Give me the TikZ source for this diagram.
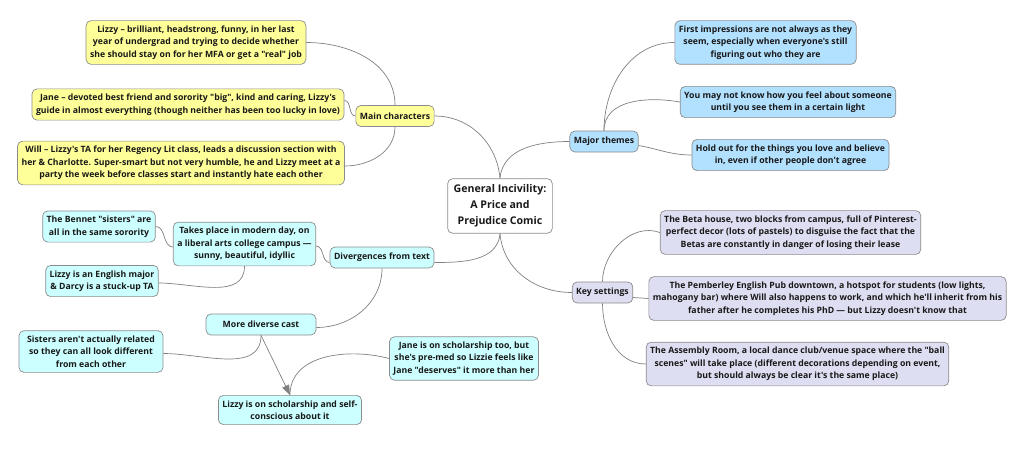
\documentclass[tikz,border=0pt]{standalone}
\usepackage{fontspec}
\setmainfont{Open Sans}[Ligatures=TeXOff]
\usepackage{xcolor}
\usetikzlibrary{arrows.meta, positioning}

\definecolor{charyellow}{RGB}{255,255,153}
\definecolor{themeblue}{RGB}{178,224,255}
\definecolor{placelilac}{RGB}{222,222,242}
\definecolor{divcyan}{RGB}{204,255,255}

\begin{document}
\begin{tikzpicture}[x=1pt, y=1pt,
  topic/.style={draw=black!45, line width=0.7pt, rounded corners=5pt, align=center, font=\fontsize{8.7}{12.5}\selectfont\bfseries, inner xsep=4pt, inner ysep=5pt, minimum height=21pt, text=black!90},
  root/.style={topic, fill=white, font=\fontsize{10.6}{16}\selectfont\bfseries, inner sep=6pt},
  chars/.style={topic, fill=charyellow},
  theme/.style={topic, fill=themeblue},
  place/.style={topic, fill=placelilac},
  diverge/.style={topic, fill=divcyan},
  link/.style={draw=black!50, line width=0.7pt},
  arrow/.style={link, -{Triangle[length=3.5mm, width=2.6mm]}}
]
  \useasboundingbox (0,0) rectangle (1024,448);

  % centre
  \node[root] (root) at (500,242) {General Incivility:\\A Price and\\Prejudice Comic};

  % Main characters
  \node[chars] (chars) at (395,332) {Main characters};
  \node[chars] (lizzy) at (196,405.5) {Lizzy – brilliant, headstrong, funny, in her last\\year of undergrad and trying to decide whether\\she should stay on for her MFA or get a "real" job};
  \node[chars] (jane) at (188,343.5) {Jane – devoted best friend and sorority "big", kind and caring, Lizzy's\\guide in almost everything (though neither has been too lucky in love)};
  \node[chars] (will) at (181,285) {Will – Lizzy's TA for her Regency Lit class, leads a discussion section with\\her \& Charlotte. Super-smart but not very humble, he and Lizzy meet at a\\party the week before classes start and instantly hate each other};
  \draw[link] (root.north) to[out=95, in=0] (chars.east);
  \draw[link] (chars.north) to[out=90, in=0] (lizzy.east);
  \draw[link] (chars.west) to[out=180, in=0] ([yshift=4pt]jane.east);
  \draw[link] (chars.south) to[out=-90, in=0] ([yshift=-3pt]will.east);

  % Major themes
  \node[theme] (themes) at (604,306.5) {Major themes};
  \node[theme] (first) at (765.5,405.5) {First impressions are not always as they\\seem, especially when everyone's still\\figuring out who they are};
  \node[theme] (mayknow) at (788,346) {You may not know how you feel about someone\\until you see them in a certain light};
  \node[theme] (holdout) at (790.5,293) {Hold out for the things you love and believe\\in, even if other people don't agree};
  \draw[link] (root.north) to[out=85, in=180] (themes.west);
  \draw[link] (themes.north) to[out=90, in=180] (first.west);
  \draw[link] (themes.north) to[out=90, in=170] (mayknow.west);
  \draw[link] ([yshift=-4pt]themes.east) to[out=-10, in=180] (holdout.west);

  % Key settings
  \node[place] (settings) at (602.5,155.5) {Key settings};
  \node[place] (beta) at (790.5,215.5) {The Beta house, two blocks from campus, full of Pinterest-\\perfect decor (lots of pastels) to disguise the fact that the\\Betas are constantly in danger of losing their lease};
  \node[place] (pemberley) at (827.5,149.5) {The Pemberley English Pub downtown, a hotspot for students (low lights,\\mahogany bar) where Will also happens to work, and which he'll inherit from his\\father after he completes his PhD — but Lizzy doesn't know that};
  \node[place] (assembly) at (797.5,84) {The Assembly Room, a local dance club/venue space where the "ball\\scenes" will take place (different decorations depending on event,\\but should always be clear it's the same place)};
  \draw[link] (root.south) to[out=-85, in=180] (settings.west);
  \draw[link] (settings.north) to[out=90, in=160] (beta.west);
  \draw[link] ([yshift=-5pt]settings.east) -- (pemberley.west);
  \draw[link] (settings.south) to[out=-90, in=180] (assembly.west);

  % Divergences from text
  \node[diverge] (diverge) at (382,190.5) {Divergences from text};
  \node[diverge] (modern) at (244.5,204) {Takes place in modern day, on\\a liberal arts college campus —\\sunny, beautiful, idyllic};
  \node[diverge] (bennet) at (99,221.5) {The Bennet "sisters" are\\all in the same sorority};
  \node[diverge] (english) at (102,167) {Lizzy is an English major\\\& Darcy is a stuck-up TA};
  \node[diverge, minimum width=110pt] (diverse) at (261,123.5) {More diverse cast};
  \node[diverge, minimum width=144pt] (sisters) at (91,96.5) {Sisters aren't actually related\\so they can all look different\\from each other};
  \node[diverge] (lizzyschol) at (290,38) {Lizzy is on scholarship and self-\\conscious about it};
  \node[diverge] (janeschol) at (464,89.5) {Jane is on scholarship too, but\\she's pre-med so Lizzie feels like\\Jane "deserves" it more than her};
  \draw[link] (root.south) to[out=-95, in=0] ([yshift=-5pt]diverge.east);
  \draw[link] ([yshift=-5pt]diverge.west) to[out=180, in=0] ([yshift=-2pt]modern.east);
  \draw[link] (diverge.south) to[out=-90, in=0] ([yshift=-3pt]diverse.east);
  \draw[link] ([yshift=-3pt]modern.west) to[out=180, in=0] (bennet.east);
  \draw[link] (modern.south) to[out=-90, in=0] ([yshift=-2pt]english.east);
  \draw[link] (diverse.south) to[out=-90, in=0] ([yshift=-2pt]sisters.east);
  \draw[arrow] (diverse.south) -- (lizzyschol.north);
  \draw[link] (janeschol.west) to[out=165, in=90] (lizzyschol.north);

\end{tikzpicture}
\end{document}
